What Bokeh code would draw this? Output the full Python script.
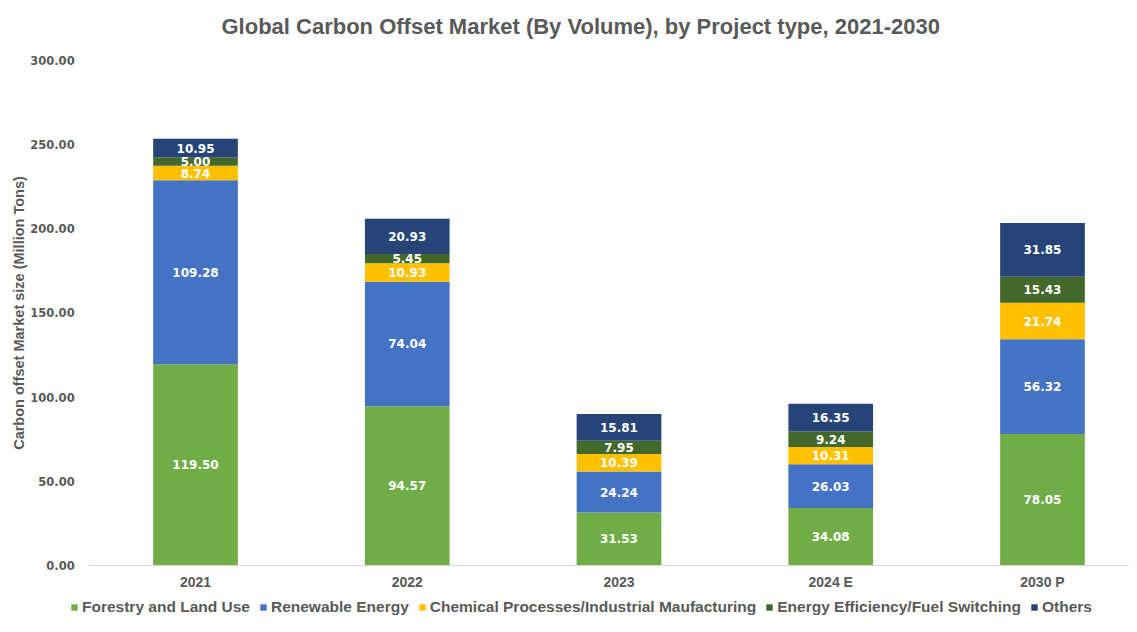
from bokeh.plotting import figure
from bokeh.models import (Range1d, FixedTicker, Legend, LegendItem, ColumnDataSource,
                          NumeralTickFormatter, Title)
from bokeh.core.properties import value
from bokeh.embed import file_html
from bokeh.resources import INLINE

categories = ["2021", "2022", "2023", "2024 E", "2030 P"]
series_names = ["Forestry and Land Use", "Renewable Energy",
                "Chemical Processes/Industrial Maufacturing",
                "Energy Efficiency/Fuel Switching", "Others"]
forestry = [119.50, 94.57, 31.53, 34.08, 78.05]
renewable = [109.28, 74.04, 24.24, 26.03, 56.32]
chemical = [8.74, 10.93, 10.39, 10.31, 21.74]
efficiency = [5.00, 5.45, 7.95, 9.24, 15.43]
others = [10.95, 20.93, 15.81, 16.35, 31.85]
y_ticks = [0, 50, 100, 150, 200, 250, 300]
colors = ["#70AD47", "#4472C4", "#FFC000", "#43682B", "#264478"]

keys = ["forestry", "renewable", "chemical", "efficiency", "others"]
series = [forestry, renewable, chemical, efficiency, others]
xs = list(range(len(categories)))

data = {"x": xs}
for k, s in zip(keys, series):
    data[k] = s
source = ColumnDataSource(data)

GREY = "#595959"

p = figure(width=1129, height=616, x_range=Range1d(-0.921, 4.411), y_range=Range1d(-30.3, 308.9),
           output_backend="svg", toolbar_location=None,
           min_border_left=0, min_border_right=0, min_border_top=45, min_border_bottom=0)
p.outline_line_color = None
p.xgrid.visible = False
p.ygrid.visible = False

title = Title(text="Global Carbon Offset Market (By Volume), by Project type, 2021-2030",
              align="left", offset=221, standoff=14,
              text_font="Liberation Sans", text_font_size="22px", text_font_style="bold",
              text_color=GREY)
p.add_layout(title, "above")

renderers = p.vbar_stack(keys, x="x", width=0.4, color=colors, line_color=None, source=source)

# data labels
lx, ly, lt = [], [], []
bottoms = [0.0] * len(xs)
for s in series:
    for i, v in enumerate(s):
        lx.append(xs[i])
        ly.append(bottoms[i] + v / 2.0)
        lt.append(f"{v:.2f}")
        bottoms[i] += v
lsrc = ColumnDataSource(dict(x=lx, y=ly, t=lt))
p.text(x="x", y="y", text="t", source=lsrc, text_align="center", text_baseline="middle",
       text_color="white", text_font=value("DejaVu Sans"), text_font_size="12px",
       text_font_style="bold")

# axes
xa = p.xaxis[0]
xa.fixed_location = 0
xa.bounds = (-0.5, 4.411)
xa.ticker = FixedTicker(ticks=xs)
xa.major_label_overrides = {i: c for i, c in zip(xs, categories)}
xa.axis_line_color = "#D9D9D9"
xa.major_tick_line_color = None
xa.minor_tick_line_color = None
xa.major_label_standoff = 3
xa.major_label_text_font = "Liberation Sans"
xa.major_label_text_font_size = "14px"
xa.major_label_text_font_style = "bold"
xa.major_label_text_color = GREY

ya = p.yaxis[0]
ya.fixed_location = -0.5
ya.bounds = (0, 300)
ya.ticker = FixedTicker(ticks=y_ticks)
ya.formatter = NumeralTickFormatter(format="0.00")
ya.axis_line_color = None
ya.major_tick_line_color = None
ya.minor_tick_line_color = None
ya.major_label_standoff = 9
ya.major_label_text_font = "DejaVu Sans"
ya.major_label_text_font_size = "11.5px"
ya.major_label_text_font_style = "bold"
ya.major_label_text_color = GREY
ya.axis_label = "Carbon offset Market size (Million Tons)"
ya.axis_label_standoff = 0
ya.axis_label_text_font = "Liberation Sans"
ya.axis_label_text_font_size = "14.5px"
ya.axis_label_text_font_style = "bold"
ya.axis_label_text_color = GREY

legend = Legend(items=[LegendItem(label=n, renderers=[r]) for n, r in zip(series_names, renderers)],
                orientation="horizontal", location=(70, 0),
                label_text_font="Liberation Sans", label_text_font_size="15.5px",
                label_text_font_style="bold", label_text_color=GREY,
                glyph_width=8, glyph_height=8, label_standoff=4, spacing=9, label_height=12,
                padding=0, margin=0, border_line_color=None, background_fill_alpha=0)
p.add_layout(legend, "center")

open("out.html", "w").write(file_html(p, INLINE))
